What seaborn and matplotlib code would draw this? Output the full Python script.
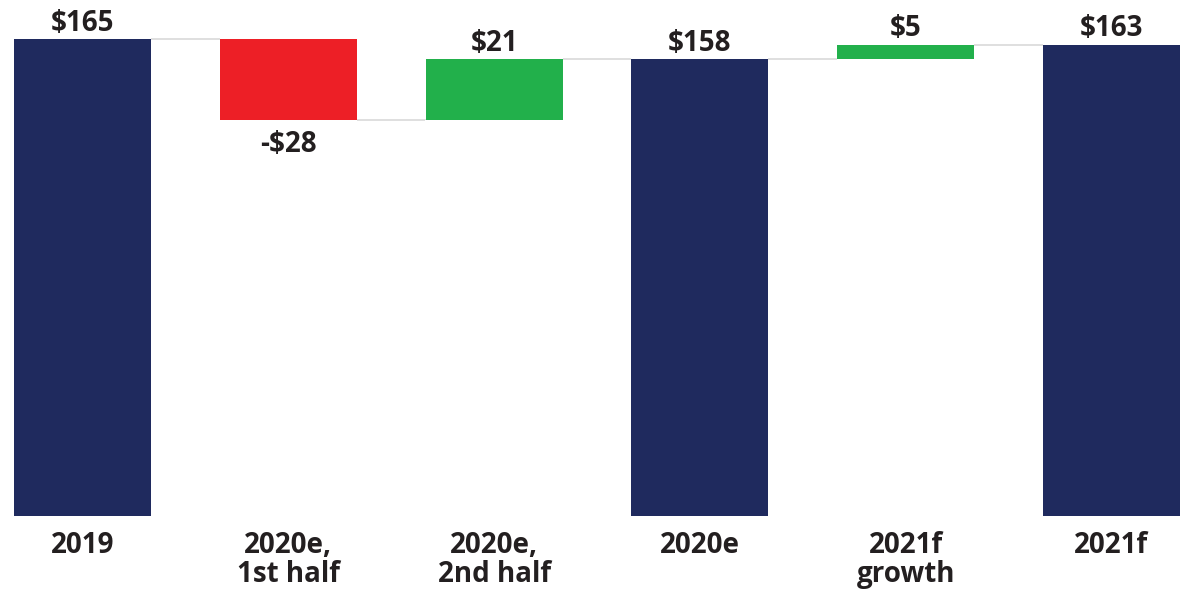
import matplotlib
matplotlib.use("Agg")
import matplotlib.pyplot as plt
import seaborn as sns
import pandas as pd

categories = ["2019", "2020e,\n1st half", "2020e,\n2nd half", "2020e", "2021f\ngrowth", "2021f"]
values = [165, -28, 21, 158, 5, 163]
kinds = ["total", "delta", "delta", "total", "delta", "total"]
value_labels = ["$165", "-$28", "$21", "$158", "$5", "$163"]

NAVY = "#1f2a5e"
RED = "#ed1f26"
GREEN = "#22b04b"

# compute floating bar extents
tops, bottoms, colors, levels = [], [], [], []
running = 0
for v, k in zip(values, kinds):
    if k == "total":
        running = v
        bottoms.append(0)
        tops.append(v)
        colors.append(NAVY)
    else:
        start = running
        running = running + v
        bottoms.append(min(start, running))
        tops.append(max(start, running))
        colors.append(GREEN if v > 0 else RED)
    levels.append(running)

df = pd.DataFrame({"cat": categories, "top": tops, "bottom": bottoms})

sns.set_theme(style="white")
plt.rcParams["font.family"] = ["Open Sans", "DejaVu Sans"]

fig = plt.figure(figsize=(12, 6), dpi=100)
ax = fig.add_axes([0, 84 / 600, 1, 516 / 600])

w = 0.665
sns.barplot(data=df, x="cat", y="top", hue="cat", palette=colors, legend=False,
            width=w, ax=ax, saturation=1, edgecolor="none", linewidth=0)
sns.barplot(data=df, x="cat", y="bottom", color="white", width=w + 0.005, ax=ax,
            saturation=1, edgecolor="none", linewidth=0)

for i in range(len(values) - 1):
    ax.plot([i + w / 2, i + 1 - w / 2], [levels[i], levels[i]], color="#dcdcdc",
            lw=1.3, zorder=0, solid_capstyle="butt")

for i, (lab, v) in enumerate(zip(value_labels, values)):
    if v < 0:
        ax.annotate(lab, (i, bottoms[i]), xytext=(0, -7), textcoords="offset points",
                    ha="center", va="top", fontsize=20, fontweight="bold", color="#231f20")
    else:
        ax.annotate(lab, (i, tops[i]), xytext=(0, 1), textcoords="offset points",
                    ha="center", va="bottom", fontsize=20, fontweight="bold", color="#231f20")

ax.set_xlim(-0.401, 5.43)
ax.set_ylim(0, 178.5)
ax.set_xlabel("")
ax.set_ylabel("")
ax.set_yticks([])
ax.set_xticks(range(len(categories)))
ax.set_xticklabels(categories, fontsize=20, fontweight="bold", color="#231f20",
                   linespacing=1.0, va="top")
ax.tick_params(axis="x", length=0, pad=11)
for s in ax.spines.values():
    s.set_visible(False)

fig.savefig("out.png", dpi=100, facecolor="white")
